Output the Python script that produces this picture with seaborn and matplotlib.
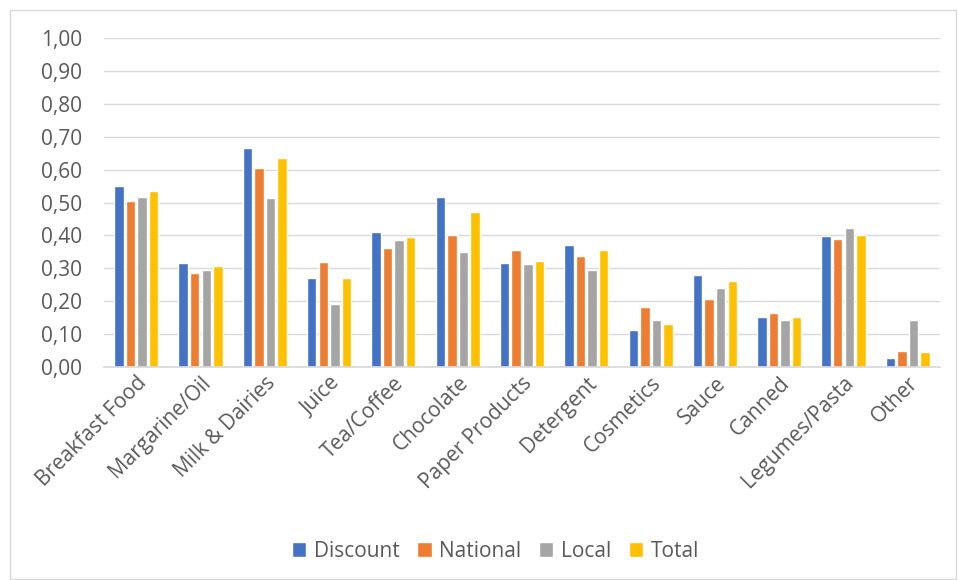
import matplotlib
matplotlib.use("Agg")
import matplotlib.pyplot as plt
import seaborn as sns
import pandas as pd
from matplotlib.patches import Rectangle
from matplotlib.ticker import FuncFormatter

categories = ["Breakfast Food", "Margarine/Oil", "Milk & Dairies", "Juice", "Tea/Coffee",
              "Chocolate", "Paper Products", "Detergent", "Cosmetics", "Sauce", "Canned",
              "Legumes/Pasta", "Other"]
discount = [0.55, 0.315, 0.665, 0.27, 0.41, 0.516, 0.316, 0.372, 0.112, 0.28, 0.153, 0.398, 0.026]
national = [0.505, 0.287, 0.605, 0.318, 0.362, 0.40, 0.356, 0.337, 0.182, 0.208, 0.163, 0.39, 0.049]
local = [0.518, 0.295, 0.513, 0.191, 0.385, 0.35, 0.313, 0.296, 0.144, 0.24, 0.144, 0.421, 0.144]
total = [0.536, 0.307, 0.635, 0.27, 0.396, 0.472, 0.323, 0.356, 0.132, 0.261, 0.153, 0.40, 0.045]
series_names = ["Discount", "National", "Local", "Total"]
colors = ["#4472C4", "#ED7D31", "#A5A5A5", "#FFC000"]

rows = []
for name, vals in zip(series_names, [discount, national, local, total]):
    for c, v in zip(categories, vals):
        rows.append({"Category": c, "Series": name, "Value": v})
df = pd.DataFrame(rows)

sns.set_theme(style="white")
plt.rcParams["font.family"] = ["Open Sans", "DejaVu Sans"]

fig = plt.figure(figsize=(9.58, 5.8), dpi=100)
ax = fig.add_axes([104 / 958, 1 - 367 / 580, 836 / 958, 329 / 580])

sns.barplot(data=df, x="Category", y="Value", hue="Series", hue_order=series_names,
            order=categories, palette=colors, width=0.72, gap=0.18, ax=ax,
            saturation=1, errorbar=None)

ax.set_ylim(0, 1.0)
ax.set_yticks([i / 10 for i in range(11)])
ax.yaxis.set_major_formatter(FuncFormatter(lambda v, p: f"{v:.2f}".replace(".", ",")))
ax.grid(axis="y", color="#D9D9D9", linewidth=1)
ax.set_axisbelow(True)
for s in ["top", "right", "left"]:
    ax.spines[s].set_visible(False)
ax.spines["bottom"].set_color("#D9D9D9")
ax.set_xlabel("")
ax.set_ylabel("")
ax.tick_params(axis="y", labelsize=15, colors="#595959", length=0, pad=16)
ax.tick_params(axis="x", labelsize=15, colors="#595959", length=0, pad=4)
plt.setp(ax.get_xticklabels(), rotation=45, ha="right", rotation_mode="anchor")
ax.set_xlim(-0.5, len(categories) - 0.5)

ax.legend(loc="upper center", bbox_to_anchor=(0.517, 1 - 522 / 580), bbox_transform=fig.transFigure,
          ncol=4, frameon=False, fontsize=15, handlelength=0.7, handleheight=0.7,
          handletextpad=0.35, columnspacing=0.85, labelcolor="#595959")

fig.patches.append(Rectangle((10 / 958, 0.002), 946 / 958, 1 - 10 / 580 - 0.002,
                             transform=fig.transFigure, fill=False, edgecolor="#D9D9D9", linewidth=1))

fig.savefig("out.png", dpi=100, facecolor="white")
